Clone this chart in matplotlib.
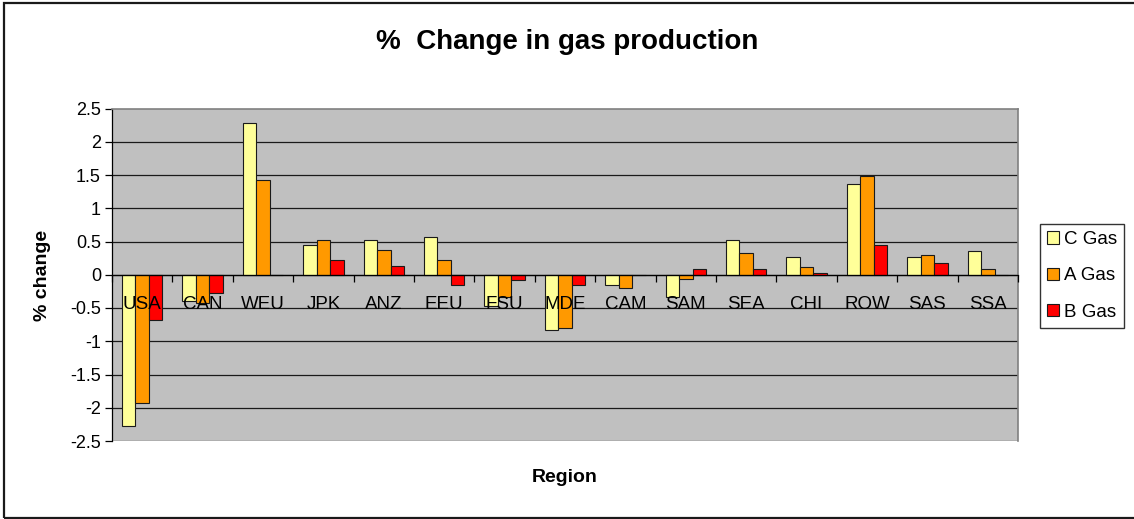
import numpy as np
import matplotlib
matplotlib.use("Agg")
import matplotlib.pyplot as plt
from matplotlib.patches import Rectangle

plt.rcParams['font.family'] = ['Liberation Sans', 'DejaVu Sans']

regions = ["USA", "CAN", "WEU", "JPK", "ANZ", "EEU", "FSU", "MDE",
           "CAM", "SAM", "SEA", "CHI", "ROW", "SAS", "SSA"]
c_gas = [-2.28, -0.40, 2.28, 0.44, 0.53, 0.57, -0.47, -0.83,
         -0.16, -0.34, 0.53, 0.27, 1.36, 0.26, 0.36]
a_gas = [-1.93, -0.42, 1.42, 0.53, 0.37, 0.22, -0.33, -0.80,
         -0.20, -0.06, 0.32, 0.11, 1.49, 0.30, 0.09]
b_gas = [-0.68, -0.28, 0.00, 0.22, 0.13, -0.16, -0.08, -0.16,
         0.00, 0.09, 0.09, 0.03, 0.45, 0.17, 0.00]
series_names = ["C Gas", "A Gas", "B Gas"]
series_colors = ["#FFFF99", "#FF9900", "#FF0000"]
y_ticks = [-2.5, -2, -1.5, -1, -0.5, 0, 0.5, 1, 1.5, 2, 2.5]

W, H = 1134, 519
fig = plt.figure(figsize=(W / 100, H / 100), dpi=100)
fig.patch.set_facecolor("white")

ax = fig.add_axes([112 / W, 1 - 441 / H, (1018 - 112) / W, (441 - 108.5) / H])
ax.set_facecolor("#C0C0C0")

n = len(regions)
x = np.arange(n)
bw = 1 / 4.5
for k, (vals, name, col) in enumerate(zip([c_gas, a_gas, b_gas], series_names, series_colors)):
    ax.bar(x + (k - 1) * bw, vals, width=bw, color=col, edgecolor="#1a1a1a",
           linewidth=0.8, label=name, zorder=2)

ax.set_xlim(-0.5, n - 0.5)
ax.set_ylim(-2.5, 2.5)

# horizontal gridlines
for yv in y_ticks:
    if yv == 2.5:
        continue
    ax.axhline(yv, color="#1a1a1a" if yv != -2.5 else "#404040", linewidth=0.9, zorder=1)

# y axis
ax.set_yticks(y_ticks)
ax.set_yticklabels([("%g" % v) for v in y_ticks], fontsize=13)
ax.tick_params(axis="y", direction="out", length=5, width=0.9, color="black", pad=3)

# category axis along zero, labels drawn over the bars
ax.spines["bottom"].set_position(("data", 0))
ax.spines["bottom"].set_color("black")
ax.spines["bottom"].set_linewidth(0.9)
ax.spines["bottom"].set_zorder(4)
ax.xaxis.set_zorder(5)
ax.set_xticks(x)
ax.set_xticklabels(regions, fontsize=13.5)
ax.tick_params(axis="x", which="major", length=0, pad=15)
ax.set_xticks(np.arange(n + 1) - 0.5, minor=True)
ax.tick_params(axis="x", which="minor", direction="out", length=5, width=0.9, color="black")

ax.spines["left"].set_color("black")
ax.spines["left"].set_linewidth(0.9)
for s in ("top", "right"):
    ax.spines[s].set_color("#808080")
    ax.spines[s].set_linewidth(1.2)

ax.set_ylabel("% change", fontsize=14, fontweight="bold")
ax.yaxis.set_label_coords(51 / W, 1 - 275 / H, transform=fig.transFigure)

fig.text(565 / W, 1 - 477 / H, "Region", fontsize=14, fontweight="bold",
         ha="center", va="center")
fig.text(567 / W, 1 - 42 / H, "%  Change in gas production", fontsize=20,
         fontweight="bold", ha="center", va="center")

leg = ax.legend(loc="upper left", bbox_to_anchor=(1040 / W, 1 - 224 / H),
                bbox_transform=fig.transFigure, fontsize=13.5, frameon=True,
                fancybox=False, edgecolor="black", handlelength=0.65,
                handleheight=0.65, handletextpad=0.25, labelspacing=1.03,
                borderpad=0.38, borderaxespad=0)
leg.get_frame().set_linewidth(1.0)

# chart border
fig.patches.append(Rectangle((3.5 / W, 1.5 / H), 1.2, (516 - 1.5) / H,
                             transform=fig.transFigure, fill=False,
                             edgecolor="#1a1a1a", linewidth=1.6))

fig.savefig("out.png", dpi=100, facecolor="white")
